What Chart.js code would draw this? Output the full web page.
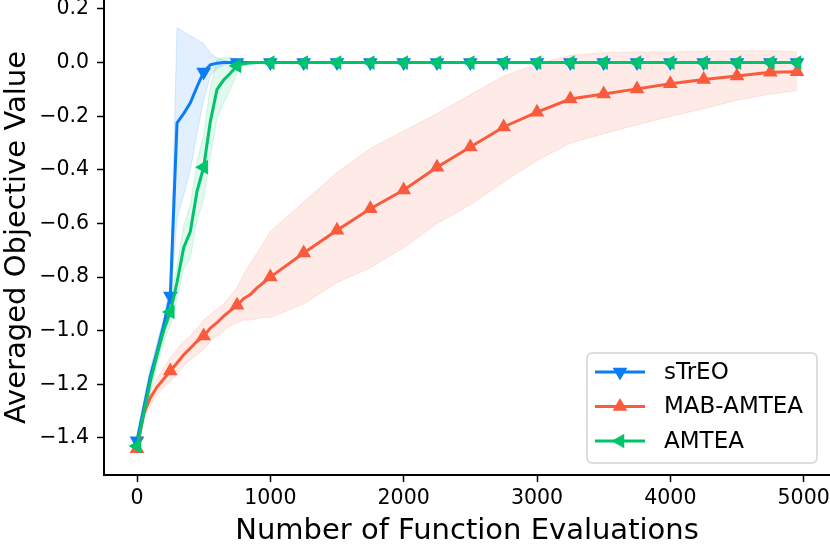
<!DOCTYPE html>
<html>
<head>
<meta charset="utf-8">
<script src="https://cdn.jsdelivr.net/npm/chart.js@4.4.1/dist/chart.umd.min.js"></script>
<style>
  html, body { margin: 0; padding: 0; background: #fff; }
  #wrap { width: 830px; height: 549px; }
</style>
</head>
<body>
<div id="wrap"><canvas id="chart" width="830" height="549"></canvas></div>
<script>
// function evaluations (x positions of the recorded points)
const evaluations = [
    0, 50, 100, 150, 200, 250, 300, 350, 400, 450, 500, 550, 600, 650, 700, 750, 800, 850, 900, 950, 1000,
    1250, 1500, 1750, 2000, 2250, 2500, 2750, 3000, 3250, 3500, 3750, 4000, 4250, 4500, 4750, 4950
];

const streoMean = [
    -1.41, -1.29, -1.17, -1.08, -0.98, -0.87, -0.225, -0.19, -0.15, -0.09, -0.035, -0.008, -0.002, 0, 0, 0, 0, 0, 0, 0, 0,
    0, 0, 0, 0, 0, 0, 0, 0, 0, 0, 0, 0, 0, 0, 0, 0
];
const streoLow = [
    -1.43, -1.32, -1.20, -1.11, -1.01, -0.91, -0.58, -0.495, -0.40, -0.265, -0.14, -0.05, -0.022, -0.01, -0.003, 0, 0, 0, 0, 0, 0,
    0, 0, 0, 0, 0, 0, 0, 0, 0, 0, 0, 0, 0, 0, 0, 0
];
const streoHigh = [
    -1.39, -1.26, -1.14, -1.05, -0.95, -0.83, 0.13, 0.115, 0.10, 0.085, 0.07, 0.035, 0.018, 0.01, 0.003, 0, 0, 0, 0, 0, 0,
    0, 0, 0, 0, 0, 0, 0, 0, 0, 0, 0, 0, 0, 0, 0, 0
];

const mabMean = [
    -1.44, -1.31, -1.25, -1.21, -1.18, -1.15, -1.12, -1.09, -1.065, -1.04, -1.02, -0.99, -0.97, -0.945, -0.925, -0.905, -0.88, -0.865, -0.84, -0.82, -0.80,
    -0.71, -0.625, -0.545, -0.475, -0.39, -0.315, -0.24, -0.185, -0.136, -0.117, -0.098, -0.079, -0.063, -0.05, -0.036, -0.034
];
const mabLow = [
    -1.46, -1.33, -1.28, -1.24, -1.21, -1.19, -1.16, -1.13, -1.11, -1.09, -1.07, -1.04, -1.02, -1.00, -0.98, -0.97, -0.96, -0.96, -0.955, -0.95, -0.95,
    -0.90, -0.82, -0.765, -0.69, -0.60, -0.53, -0.445, -0.365, -0.30, -0.265, -0.232, -0.20, -0.172, -0.14, -0.117, -0.105
];
const mabHigh = [
    -1.42, -1.29, -1.22, -1.18, -1.14, -1.10, -1.07, -1.04, -1.02, -0.99, -0.96, -0.94, -0.92, -0.90, -0.87, -0.84, -0.79, -0.75, -0.71, -0.67, -0.63,
    -0.52, -0.41, -0.32, -0.255, -0.19, -0.12, -0.05, -0.005, 0.027, 0.037, 0.04, 0.04, 0.042, 0.044, 0.044, 0.04
];

const amteaMean = [
    -1.43, -1.31, -1.19, -1.09, -1.00, -0.93, -0.82, -0.69, -0.63, -0.48, -0.39, -0.22, -0.10, -0.065, -0.04, -0.012, -0.004, -0.001, 0, 0, 0,
    0, 0, 0, 0, 0, 0, 0, 0, 0, 0, 0, 0, 0, 0, 0, 0
];
const amteaLow = [
    -1.45, -1.34, -1.23, -1.13, -1.04, -0.98, -0.88, -0.77, -0.73, -0.59, -0.51, -0.35, -0.21, -0.15, -0.10, -0.04, -0.013, -0.004, 0, 0, 0,
    0, 0, 0, 0, 0, 0, 0, 0, 0, 0, 0, 0, 0, 0, 0, 0
];
const amteaHigh = [
    -1.41, -1.28, -1.15, -1.05, -0.96, -0.88, -0.76, -0.61, -0.53, -0.37, -0.27, -0.09, 0.01, 0.02, 0.02, 0.016, 0.005, 0.002, 0, 0, 0,
    0, 0, 0, 0, 0, 0, 0, 0, 0, 0, 0, 0, 0, 0, 0, 0
];

const xTicks = [0, 1000, 2000, 3000, 4000, 5000];
const yTicks = [-1.4, -1.2, -1.0, -0.8, -0.6, -0.4, -0.2, 0.0, 0.2];

const seriesNames = ["sTrEO", "MAB-AMTEA", "AMTEA"];
const BLUE = "10,125,245";
const RED = "250,91,61";
const GREEN = "0,196,106";
const FONT = "'DejaVu Sans', sans-serif";

const toPoints = (values) => values.map((v, i) => ({ x: evaluations[i], y: v }));
const isMarked = (i) => evaluations[i] % 250 === 0 || i === evaluations.length - 1;

function lineSet(label, values, rgb, rotation, order) {
    return {
        label,
        data: toPoints(values),
        borderColor: `rgb(${rgb})`,
        backgroundColor: `rgb(${rgb})`,
        borderWidth: 3,
        pointStyle: "triangle",
        pointRotation: rotation,
        pointRadius: (ctx) => (isMarked(ctx.dataIndex) ? 8.5 : 0),
        pointBorderWidth: 0,
        fill: false,
        order,
    };
}

function bandSet(values, rgb, fillTo) {
    return {
        label: "",
        data: toPoints(values),
        borderColor: `rgba(${rgb},0.14)`,
        backgroundColor: `rgba(${rgb},0.12)`,
        borderWidth: 1,
        pointRadius: 0,
        fill: fillTo,
        order: 10,
    };
}

// legend drawn inside the plot, bottom right
const boxLegend = {
    id: "boxLegend",
    afterDraw(chart) {
        const ctx = chart.ctx;
        const items = [
            { text: seriesNames[0], rgb: BLUE, rot: 180 },
            { text: seriesNames[1], rgb: RED, rot: 0 },
            { text: seriesNames[2], rgb: GREEN, rot: 270 },
        ];
        ctx.save();
        ctx.beginPath();
        ctx.roundRect(587, 353, 230, 110, 5);
        ctx.fillStyle = "rgba(255,255,255,0.8)";
        ctx.fill();
        ctx.strokeStyle = "#d4d4d4";
        ctx.lineWidth = 1.5;
        ctx.stroke();
        items.forEach((it, k) => {
            const y = 372 + k * 34.5;
            ctx.strokeStyle = `rgb(${it.rgb})`;
            ctx.lineWidth = 3;
            ctx.beginPath();
            ctx.moveTo(595, y);
            ctx.lineTo(645, y);
            ctx.stroke();
            ctx.fillStyle = `rgb(${it.rgb})`;
            Chart.helpers.drawPoint(ctx, { pointStyle: "triangle", radius: 8.5, rotation: it.rot, borderWidth: 0 }, 620, y);
            ctx.fillStyle = "#000";
            ctx.font = `23px ${FONT}`;
            ctx.textBaseline = "middle";
            ctx.fillText(it.text, 664, y + 1);
        });
        ctx.restore();
    },
};

new Chart(document.getElementById("chart"), {
    type: "line",
    data: {
        datasets: [
            lineSet(seriesNames[2], amteaMean, GREEN, 270, 0),
            lineSet(seriesNames[1], mabMean, RED, 0, 1),
            lineSet(seriesNames[0], streoMean, BLUE, 180, 2),
            bandSet(streoLow, BLUE, false),
            bandSet(streoHigh, BLUE, "-1"),
            bandSet(mabLow, RED, false),
            bandSet(mabHigh, RED, "-1"),
            bandSet(amteaLow, GREEN, false),
            bandSet(amteaHigh, GREEN, "-1"),
        ],
    },
    options: {
        responsive: false,
        animation: false,
        layout: { padding: 0, autoPadding: false },
        plugins: {
            legend: { display: false },
            tooltip: { enabled: false },
        },
        scales: {
            x: {
                type: "linear",
                min: -247.5,
                max: 5197.5,
                afterBuildTicks: (scale) => {
                    scale.ticks = xTicks.map((v) => ({ value: v }));
                },
                afterFit: (scale) => {
                    scale.height = 74;
                    scale.paddingLeft = 0;
                    scale.paddingRight = 0;
                },
                grid: { drawOnChartArea: false, drawTicks: true, tickLength: 7, tickWidth: 1.5, tickColor: "#000" },
                border: { display: true, color: "#000", width: 2 },
                ticks: {
                    color: "#000",
                    font: { family: FONT, size: 20.5 },
                    padding: 4,
                    maxRotation: 0,
                    callback: (v) => String(v),
                },
                title: {
                    display: true,
                    text: "Number of Function Evaluations",
                    color: "#000",
                    font: { family: FONT, size: 29 },
                    padding: 0,
                },
            },
            y: {
                type: "linear",
                min: -1.538,
                max: 0.2335,
                afterBuildTicks: (scale) => {
                    scale.ticks = yTicks.map((v) => ({ value: v }));
                },
                afterFit: (scale) => {
                    scale.width = 104;
                    scale.paddingTop = 0;
                    scale.paddingBottom = 0;
                },
                grid: { drawOnChartArea: false, drawTicks: true, tickLength: 7, tickWidth: 1.5, tickColor: "#000" },
                border: { display: true, color: "#000", width: 2 },
                ticks: {
                    color: "#000",
                    font: { family: FONT, size: 20.5 },
                    padding: 8,
                    callback: (v) => v.toFixed(1).replace("-", "\u2212"),
                },
                title: {
                    display: true,
                    text: "Averaged Objective Value",
                    color: "#000",
                    font: { family: FONT, size: 29 },
                    padding: 0,
                },
            },
        },
    },
    plugins: [boxLegend],
});
</script>
</body>
</html>
